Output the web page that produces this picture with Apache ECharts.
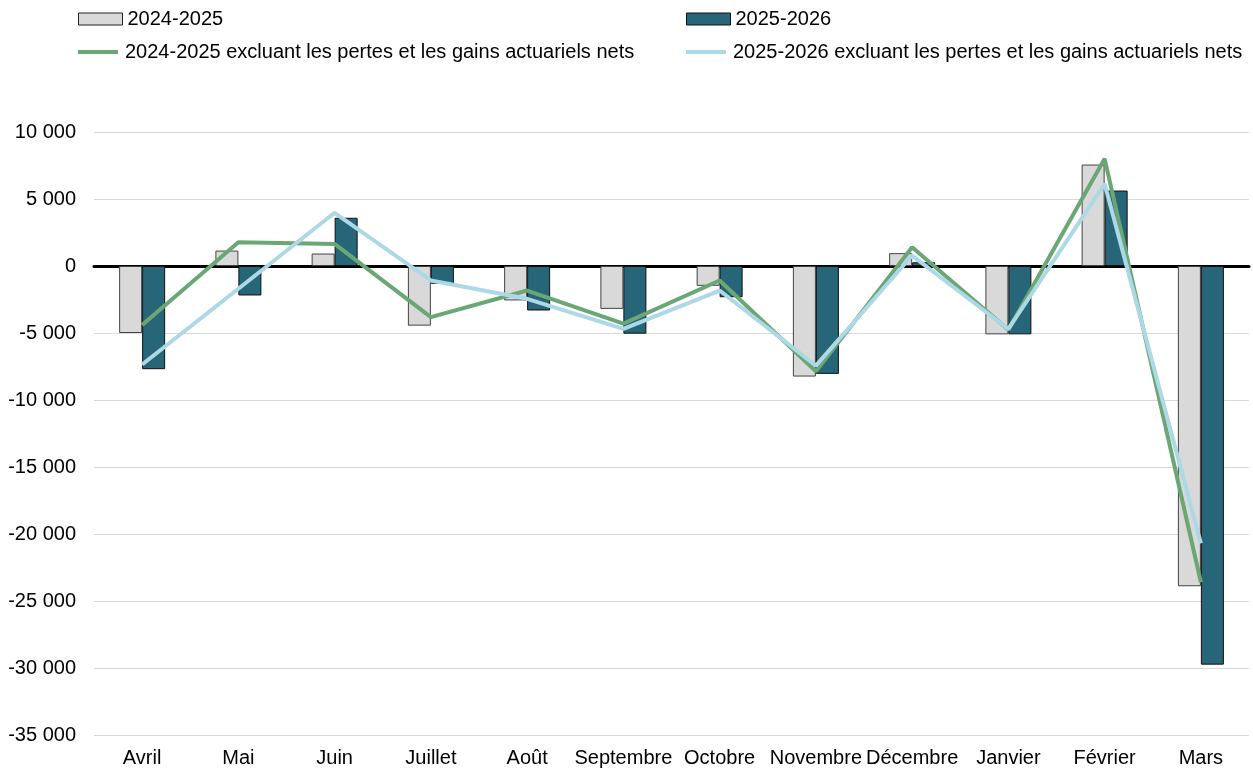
<!DOCTYPE html>
<html><head><meta charset="utf-8">
<script src="https://cdn.jsdelivr.net/npm/echarts@6/dist/echarts.min.js"></script>
<style>html,body{margin:0;padding:0;background:#fff}#c{width:1253px;height:768px}</style>
</head><body><div id="c"></div>
<script>
const categories = ['Avril','Mai','Juin','Juillet','Août','Septembre','Octobre','Novembre','Décembre','Janvier','Février','Mars'];
const s2425 = [-5000, 1150, 930, -4450, -2570, -3200, -1480, -8250, 960, -5100, 7570, -23900];
const s2526 = [-7700, -2200, 3600, -1330, -3320, -5050, -2330, -8050, 280, -5100, 5630, -29750];
const ex2425 = [-4400, 1780, 1650, -3820, -1830, -4300, -1080, -7850, 1400, -4750, 8000, -23600];
const ex2526 = [-7350, -1700, 3970, -1080, -2450, -4690, -1830, -7430, 780, -4700, 6130, -20700];
const names = ['2024-2025','2025-2026','2024-2025 excluant les pertes et les gains actuariels nets','2025-2026 excluant les pertes et les gains actuariels nets'];
const yTicks = {min:-35000, max:10000, interval:5000};

const font = 'Liberation Sans, Arial, sans-serif';
const fmt = v => { const s = Math.abs(v).toString().replace(/\B(?=(\d{3})+(?!\d))/g,' '); return (v<0?'-':'') + s; };
const leg = (name, left, top, icon, w, h, style) => ({
  data:[name], left, top, icon, itemWidth:w, itemHeight:h, itemGap:0, padding:0,
  itemStyle: style,
  textStyle:{fontFamily:font, fontSize:20, color:'#000', padding:[0,0,0,0]}, selectedMode:false
});
const chart = echarts.init(document.getElementById('c'));
chart.setOption({
  animation:false,
  legend:[
    leg(names[0], 78, 9, 'rect', 44, 12, {color:'#d9d9d9', borderColor:'#222', borderWidth:1}),
    leg(names[1], 686, 9, 'rect', 44, 12, {color:'#276678', borderColor:'#111', borderWidth:1}),
    leg(names[2], 78, 42, 'path://M0,0H10V1H0Z', 44, 4, {borderWidth:0}),
    leg(names[3], 686, 42, 'path://M0,0H10V1H0Z', 44, 4, {borderWidth:0})
  ],
  grid:{left:94, right:4, top:132, bottom:33, containLabel:false},
  xAxis:{type:'category', data:categories,
    axisLine:{onZero:true, lineStyle:{color:'#000', width:3}},
    axisTick:{show:false},
    axisLabel:{fontFamily:font, fontSize:20, color:'#000', margin:13, interval:0}},
  yAxis:{type:'value', min:yTicks.min, max:yTicks.max, interval:yTicks.interval,
    axisLine:{show:false}, axisTick:{show:false},
    splitLine:{lineStyle:{color:'#d9d9d9', width:1}},
    axisLabel:{fontFamily:font, fontSize:20, color:'#000', margin:18, formatter:fmt}},
  series:[
    {name:names[0], type:'bar', data:s2425, barWidth:23, barGap:'0%',
      itemStyle:{color:'#d9d9d9', borderColor:'#444', borderWidth:1}},
    {name:names[1], type:'bar', data:s2526, barWidth:23,
      itemStyle:{color:'#276678', borderColor:'#111', borderWidth:1}},
    {name:names[2], type:'line', data:ex2425, showSymbol:false, symbol:'none',
      lineStyle:{color:'#6aa775', width:4}, itemStyle:{color:'#6aa775'}, z:3},
    {name:names[3], type:'line', data:ex2526, showSymbol:false, symbol:'none',
      lineStyle:{color:'#add8e6', width:4}, itemStyle:{color:'#add8e6'}, z:4}
  ]
});
</script></body></html>
